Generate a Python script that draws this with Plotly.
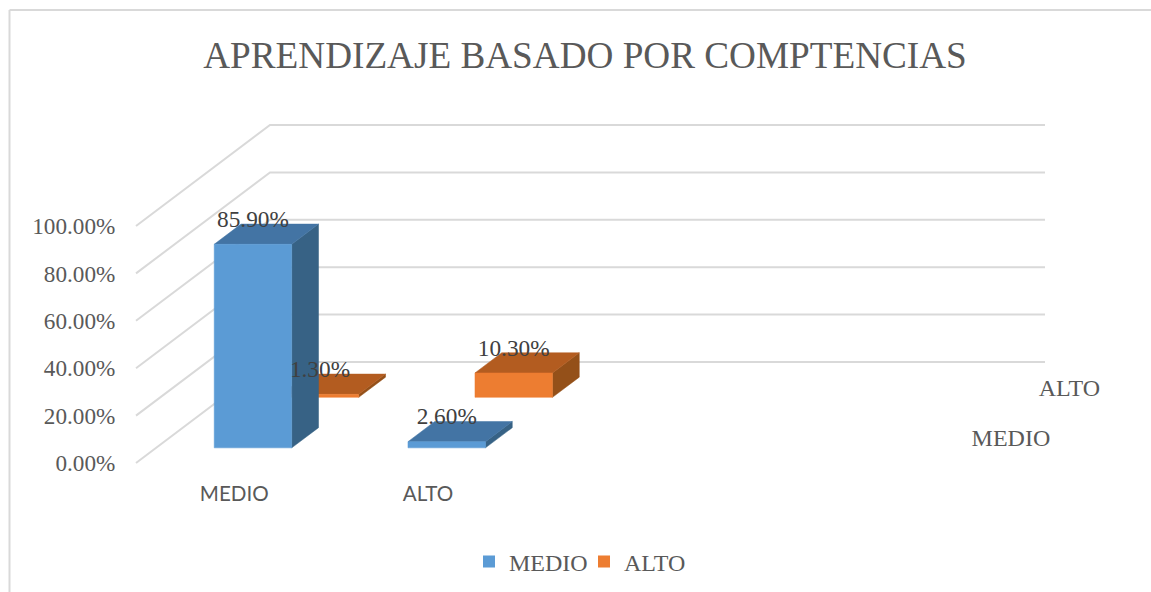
import plotly.graph_objects as go

# Chart data
categories = ['MEDIO', 'ALTO']
series_names = ['MEDIO', 'ALTO']
medio_values = [85.9, 2.6]
alto_values = [1.3, 10.3]
y_ticks = [0, 20, 40, 60, 80, 100]

WIDTH = 1151
HEIGHT = 592

# Oblique projection of the 3D box, in pixels per unit
FLOOR_LEFT = 136
FLOOR_BASE = 463
SLOT_PX = 193.75
PCT_PX = 2.37
DEPTH_DX = 134
DEPTH_DY = 101
N_SLOTS = 4

COLORS = {
    'MEDIO': {'front': '#5B9BD5', 'top': '#4374A4', 'side': '#376285'},
    'ALTO': {'front': '#ED7D31', 'top': '#B35C20', 'side': '#945019'},
    'grid': '#D9D9D9',
    'text': '#595959',
    'label': '#404040',
    'border': '#D9D9D9',
}
SERIF = 'Liberation Serif'


def project(slot, value, depth):
    """Slot/value/depth to the flat axes (slot units on x, percent on y)."""
    return slot + depth * DEPTH_DX / SLOT_PX, value + depth * DEPTH_DY / PCT_PX


def polygons(faces):
    xs, ys = [], []
    for face in faces:
        pts = [project(*p) for p in face]
        pts.append(pts[0])
        xs += [p[0] for p in pts] + [None]
        ys += [p[1] for p in pts] + [None]
    return xs, ys


def add_faces(fig, faces, color):
    xs, ys = polygons(faces)
    fig.add_trace(go.Scatter(
        x=xs, y=ys, mode='lines', fill='toself', fillcolor=color,
        line=dict(color=color, width=0.5), showlegend=False, hoverinfo='skip'
    ))


fig = go.Figure()

# Walls: each gridline runs up the side wall and along the back wall
for tick in y_ticks:
    pts = [project(0, tick, 0), project(0, tick, 1), project(N_SLOTS, tick, 1)]
    fig.add_trace(go.Scatter(
        x=[p[0] for p in pts], y=[p[1] for p in pts], mode='lines',
        line=dict(color=COLORS['grid'], width=2), showlegend=False, hoverinfo='skip'
    ))

# Back row first so the front row paints over it
all_values = {'MEDIO': medio_values, 'ALTO': alto_values}
label_x, label_y, label_text = [], [], []
for s in [1, 0]:
    name = series_names[s]
    d0, d1 = 0.15 + s * 0.5, 0.35 + s * 0.5
    side, top, front = [], [], []
    for c, v in enumerate(all_values[name]):
        x0, x1 = c + 0.3, c + 0.7
        side.append([(x1, 0, d0), (x1, 0, d1), (x1, v, d1), (x1, v, d0)])
        top.append([(x0, v, d0), (x1, v, d0), (x1, v, d1), (x0, v, d1)])
        front.append([(x0, 0, d0), (x1, 0, d0), (x1, v, d0), (x0, v, d0)])
        label_x.append(project(c + 0.5, v, d0)[0])
        label_y.append(project(c + 0.5, v, d1)[1] + 1.2)
        label_text.append(f'{v:.2f}%')
    add_faces(fig, side, COLORS[name]['side'])
    add_faces(fig, top, COLORS[name]['top'])
    add_faces(fig, front, COLORS[name]['front'])

fig.add_trace(go.Scatter(
    x=label_x, y=label_y, text=label_text, mode='text', textposition='middle center',
    textfont=dict(family=SERIF, size=23.3, color=COLORS['label']),
    showlegend=False, hoverinfo='skip'
))

# Series names along the depth axis
depth_pts = [project(N_SLOTS + 0.14, -1, 0.25 + s * 0.5) for s in range(2)]
fig.add_trace(go.Scatter(
    x=[p[0] for p in depth_pts], y=[p[1] for p in depth_pts], text=series_names,
    mode='text', textposition='middle right',
    textfont=dict(family=SERIF, size=24, color=COLORS['text']),
    showlegend=False, hoverinfo='skip'
))

# Legend entries
for name in series_names:
    fig.add_trace(go.Scatter(
        x=[None], y=[None], mode='markers', name=name,
        marker=dict(symbol='square', size=12, color=COLORS[name]['front'])
    ))

fig.update_layout(
    width=WIDTH,
    height=HEIGHT,
    margin=dict(l=0, r=0, t=0, b=0),
    paper_bgcolor='white',
    plot_bgcolor='white',
    title=dict(
        text='APRENDIZAJE BASADO POR COMPTENCIAS',
        x=585 / WIDTH, xanchor='center', y=1 - 55 / HEIGHT, yanchor='middle',
        font=dict(family=SERIF, size=37.2, color=COLORS['text'])
    ),
    xaxis=dict(
        range=[-FLOOR_LEFT / SLOT_PX, (WIDTH - FLOOR_LEFT) / SLOT_PX],
        tickvals=[c + 0.507 for c in range(len(categories))],
        ticktext=categories,
        tickfont=dict(family='Lato', size=20.6, color=COLORS['text']),
        anchor='free', position=(HEIGHT - 479) / HEIGHT,
        showgrid=False, zeroline=False, showline=False, ticks=''
    ),
    yaxis=dict(
        range=[(FLOOR_BASE - HEIGHT) / PCT_PX, FLOOR_BASE / PCT_PX],
        tickvals=y_ticks,
        ticktext=[f'{t:.2f}%' for t in y_ticks],
        tickfont=dict(family=SERIF, size=23.2, color=COLORS['text']),
        anchor='free', position=FLOOR_LEFT / WIDTH,
        showgrid=False, zeroline=False, showline=False,
        ticks='outside', ticklen=16, tickcolor='rgba(0,0,0,0)'
    ),
    legend=dict(
        orientation='h', x=469 / WIDTH, xanchor='left', y=1 - 562 / HEIGHT, yanchor='middle',
        font=dict(family=SERIF, size=24, color=COLORS['text']),
        itemsizing='trace', entrywidth=70, entrywidthmode='pixels'
    ),
    # Chart frame: only the left and top edges fall inside the picture
    shapes=[
        dict(type='line', xref='paper', yref='paper', x0=9.5 / WIDTH, x1=9.5 / WIDTH,
             y0=0, y1=1 - 10 / HEIGHT, line=dict(color=COLORS['border'], width=2)),
        dict(type='line', xref='paper', yref='paper', x0=9.5 / WIDTH, x1=1,
             y0=1 - 10 / HEIGHT, y1=1 - 10 / HEIGHT, line=dict(color=COLORS['border'], width=2)),
    ],
)

fig.write_html("out.html", config={'displayModeBar': False},
               post_script="document.body.style.margin='0'")
